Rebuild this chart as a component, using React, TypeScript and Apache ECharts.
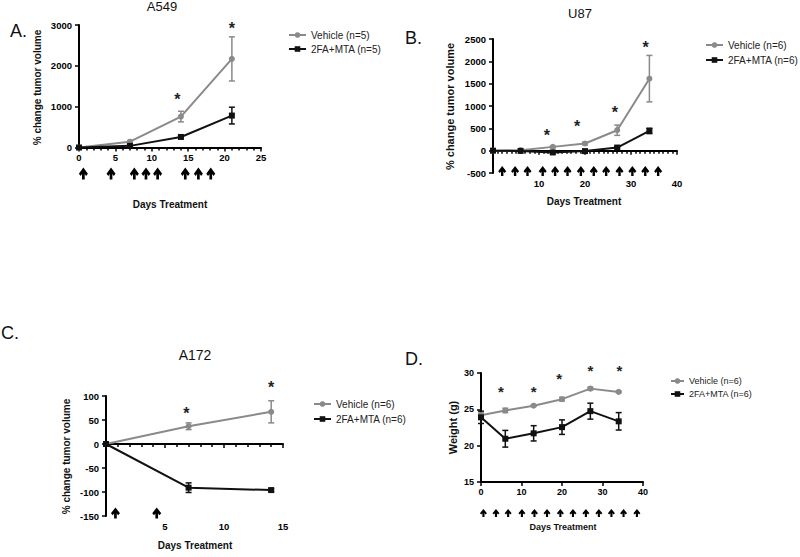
import React, { useEffect, useRef } from 'react';
import * as echarts from 'echarts';

const FONT = '"Liberation Sans", Arial, sans-serif';
const GRAY = '#8a8a8a';
const BLACK = '#111111';
const STAR = '#222222';

// ---------- Panel A (A549) ----------
const daysA = [0, 7, 14, 21];
const vehA = [0, 143, 757, 2169];
const vehAErr = [0, 20, 130, 540];
const trtA = [0, 40, 258, 782];
const trtAErr = [0, 10, 25, 205];
const starsA = [[13.5, 1250], [21, 2995]];
const arrowsA = [0.6, 4.4, 7.6, 9.2, 10.8, 14.6, 16.4, 18.1];
const namesA = ['Vehicle (n=5)', '2FA+MTA (n=5)'];

// ---------- Panel B (U87) ----------
const daysB = [0, 6, 13, 20, 27, 34];
const vehB = [0, 10, 85, 160, 458, 1612];
const vehBErr = [0, 10, 20, 30, 115, 520];
const trtB = [0, -5, -40, -10, 70, 442];
const trtBErr = [0, 5, 10, 10, 20, 60];
const starsB = [[11.7, 420], [18.3, 620], [26.5, 940], [33.2, 2390]];
const arrowsB = [2.0, 4.8, 7.5, 10.8, 13.5, 16.2, 19.1, 21.9, 24.6, 27.5, 30.3, 33.1, 35.9];
const namesB = ['Vehicle (n=6)', '2FA+MTA (n=6)'];

// ---------- Panel C (A172) ----------
const daysC = [0, 7, 14];
const vehC = [0, 37, 67];
const vehCErr = [0, 7, 23];
const trtC = [0, -91, -96];
const trtCErr = [0, 10, 3];
const starsC = [[6.8, 71], [14, 125]];
const arrowsC = [0.8, 4.3];
const namesC = ['Vehicle (n=6)', '2FA+MTA (n=6)'];

// ---------- Panel D (Weight) ----------
const daysD = [0, 6, 13, 20, 27, 34];
const vehD = [24.2, 24.85, 25.5, 26.4, 27.85, 27.4];
const vehDErr = [0.3, 0.3, 0.1, 0.25, 0.2, 0.1];
const trtD = [23.9, 20.95, 21.7, 22.55, 24.75, 23.35];
const trtDErr = [0.85, 1.15, 1.05, 1.0, 1.1, 1.2];
const starsD = [[4.9, 27.9], [13, 27.9], [19.3, 29.7], [27, 30.8], [34.2, 30.8]];
const arrowsD = [0.6, 3.7, 6.7, 10.1, 13.2, 16.3, 19.6, 22.7, 25.9, 29.1, 32.2, 35.2, 38.5];
const namesD = ['Vehicle (n=6)', '2FA+MTA (n=6)'];

const ARROW = 'path://M50,0 L100,52 L80,70 L65,54 L65,100 L35,100 L35,54 L20,70 L0,52 Z';

function errBar(i: number, days: number[], vals: number[], errs: number[], color: string) {
  return {
    type: 'custom',
    xAxisIndex: i,
    yAxisIndex: i,
    z: 2,
    data: days.map((d, k) => [d, vals[k], errs[k]]),
    encode: { x: 0, y: 1 },
    renderItem: (params: any, api: any) => {
      const x = api.value(0);
      const y = api.value(1);
      const e = api.value(2);
      if (!e) return { type: 'group', children: [] };
      const top = api.coord([x, y + e]);
      const bot = api.coord([x, y - e]);
      const hw = 3;
      const st = { stroke: color, lineWidth: 1.5 };
      return {
        type: 'group',
        children: [
          { type: 'line', shape: { x1: top[0], y1: top[1], x2: bot[0], y2: bot[1] }, style: st },
          { type: 'line', shape: { x1: top[0] - hw, y1: top[1], x2: top[0] + hw, y2: top[1] }, style: st },
          { type: 'line', shape: { x1: bot[0] - hw, y1: bot[1], x2: bot[0] + hw, y2: bot[1] }, style: st },
        ],
      };
    },
  };
}

function panelSeries(
  i: number,
  names: string[],
  days: number[],
  veh: number[],
  vehErr: number[],
  trt: number[],
  trtErr: number[],
  stars: number[][],
  arrows: number[],
  yMin: number,
  arrowOffset: number,
  arrowSize: number[],
  ms: number,
  starSize: number
) {
  return [
    errBar(i, days, veh, vehErr, GRAY),
    errBar(i, days, trt, trtErr, BLACK),
    {
      type: 'line',
      name: names[0],
      xAxisIndex: i,
      yAxisIndex: i,
      data: days.map((d, k) => [d, veh[k]]),
      symbol: 'circle',
      symbolSize: ms,
      color: GRAY,
      lineStyle: { color: GRAY, width: 2 },
      itemStyle: { color: GRAY },
      z: 3,
    },
    {
      type: 'line',
      name: names[1],
      xAxisIndex: i,
      yAxisIndex: i,
      data: days.map((d, k) => [d, trt[k]]),
      symbol: 'rect',
      symbolSize: ms,
      color: BLACK,
      lineStyle: { color: BLACK, width: 2 },
      itemStyle: { color: BLACK },
      z: 4,
    },
    {
      type: 'scatter',
      xAxisIndex: i,
      yAxisIndex: i,
      clip: false,
      data: stars,
      symbol: 'circle',
      symbolSize: 1,
      itemStyle: { color: 'rgba(0,0,0,0)', opacity: 1 },
      label: {
        show: true,
        formatter: '*',
        position: 'inside',
        offset: [0, starSize * 0.22],
        fontSize: starSize,
        fontWeight: 'bold',
        fontFamily: FONT,
        color: STAR,
      },
      z: 5,
    },
    {
      type: 'scatter',
      xAxisIndex: i,
      yAxisIndex: i,
      clip: false,
      data: arrows.map((d) => [d, yMin]),
      symbol: ARROW,
      symbolSize: arrowSize,
      symbolOffset: [0, arrowOffset],
      itemStyle: { color: '#000', opacity: 1 },
      z: 5,
    },
  ];
}

function xAxis(i: number, max: number, interval: number, minorSplit: number, hideZero: boolean, fs: number) {
  return {
    gridIndex: i,
    type: 'value',
    min: 0,
    max,
    interval,
    axisLine: { onZero: true, lineStyle: { color: '#000', width: 2 } },
    axisTick: { show: true, length: 4, lineStyle: { color: '#000', width: 1.5 } },
    minorTick: { show: minorSplit > 0, splitNumber: minorSplit || 5, length: 3, lineStyle: { color: '#000', width: 1.5 } },
    splitLine: { show: false },
    axisLabel: {
      margin: 5,
      fontSize: fs,
      fontWeight: 'bold',
      fontFamily: FONT,
      color: '#000',
      formatter: (v: number) => (hideZero && v === 0 ? '' : String(v)),
    },
  };
}

function yAxis(i: number, min: number, max: number, interval: number, fs: number) {
  return {
    gridIndex: i,
    type: 'value',
    min,
    max,
    interval,
    axisLine: { show: true, onZero: true, lineStyle: { color: '#000', width: 2 } },
    axisTick: { show: true, length: 4, lineStyle: { color: '#000', width: 1.5 } },
    splitLine: { show: false },
    axisLabel: {
      margin: 7,
      fontSize: fs,
      fontWeight: 'bold',
      fontFamily: FONT,
      color: '#000',
      formatter: (v: number) => String(v),
    },
  };
}

function legend(names: string[], left: number, top: number, fs: number, lh: number, gap: number, iw: number) {
  return {
    data: names,
    orient: 'vertical',
    left,
    top,
    padding: 0,
    itemWidth: iw,
    itemHeight: 7,
    itemGap: gap,
    selectedMode: false,
    textStyle: { fontSize: fs, lineHeight: lh, fontFamily: FONT, color: '#222' },
  };
}

function txt(text: string, x: number, y: number, size: number, weight: string, align = 'center', rot = 0) {
  return {
    type: 'text',
    x,
    y,
    rotation: rot,
    style: {
      text,
      fontSize: size,
      fontWeight: weight,
      fontFamily: FONT,
      fill: '#111',
      align,
      verticalAlign: 'middle',
    },
  };
}

export default function App() {
  const ref = useRef<HTMLDivElement>(null);
  useEffect(() => {
    if (!ref.current) return;
    const chart = echarts.init(ref.current, undefined, { renderer: 'svg' });
    const R = Math.PI / 2;
    chart.setOption({
      animation: false,
      backgroundColor: '#ffffff',
      grid: [
        { left: 79, top: 25, width: 182, height: 122.5 },
        { left: 493, top: 39, width: 184, height: 134 },
        { left: 106, top: 396, width: 177, height: 120 },
        { left: 481, top: 373, width: 162, height: 109 },
      ],
      xAxis: [
        xAxis(0, 25, 5, 5, false, 9.5),
        xAxis(1, 40, 10, 10, true, 9.5),
        xAxis(2, 15, 5, 5, true, 9.5),
        xAxis(3, 40, 10, 0, false, 9),
      ],
      yAxis: [
        yAxis(0, 0, 3000, 1000, 9.5),
        yAxis(1, -500, 2500, 500, 9.5),
        yAxis(2, -150, 100, 50, 9.5),
        yAxis(3, 15, 30, 5, 9),
      ],
      legend: [
        legend(namesA, 288, 29, 10, 12, 2, 17),
        legend(namesB, 705, 39, 10, 12, 3, 17),
        legend(namesC, 313, 398, 10, 12, 3, 17),
        legend(namesD, 670, 375.5, 9, 11, 2, 13),
      ],
      graphic: [
        txt('A549', 162, 6, 13, 'normal'),
        txt('A.', 10, 31, 18, 'normal', 'left'),
        txt('% change tumor volume', 37, 87.5, 10, 'bold', 'center', R),
        txt('Days Treatment', 170, 204, 10, 'bold'),
        txt('U87', 580, 13, 13, 'normal'),
        txt('B.', 405, 37.5, 18, 'normal', 'left'),
        txt('% change tumor volume', 450, 106.5, 11, 'bold', 'center', R),
        txt('Days Treatment', 584, 201, 10, 'bold'),
        txt('C.', 1, 333, 18, 'normal', 'left'),
        txt('A172', 195, 355, 14, 'normal'),
        txt('% change tumor volume', 66, 456.5, 10, 'bold', 'center', R),
        txt('Days Treatment', 195, 545, 10, 'bold'),
        txt('D.', 405, 359, 18, 'normal', 'left'),
        txt('Weight (g)', 453, 427.5, 11, 'bold', 'center', R),
        txt('Days Treatment', 563, 527, 9, 'bold'),
      ],
      series: [
        ...panelSeries(0, namesA, daysA, vehA, vehAErr, trtA, trtAErr, starsA, arrowsA, 0, 26, [9, 12], 6, 16),
        ...panelSeries(1, namesB, daysB, vehB, vehBErr, trtB, trtBErr, starsB, arrowsB, -500, -2, [8, 10], 6, 16),
        ...panelSeries(2, namesC, daysC, vehC, vehCErr, trtC, trtCErr, starsC, arrowsC, -150, -3, [9, 11], 6, 16),
        ...panelSeries(3, namesD, daysD, vehD, vehDErr, trtD, trtDErr, starsD, arrowsD, 15, 31, [7, 8], 6, 15),
      ],
    });
    return () => chart.dispose();
  }, []);
  return (
    <div
      ref={ref}
      style={{ position: 'fixed', left: 0, top: 0, width: 800, height: 557, background: '#fff' }}
    />
  );
}
